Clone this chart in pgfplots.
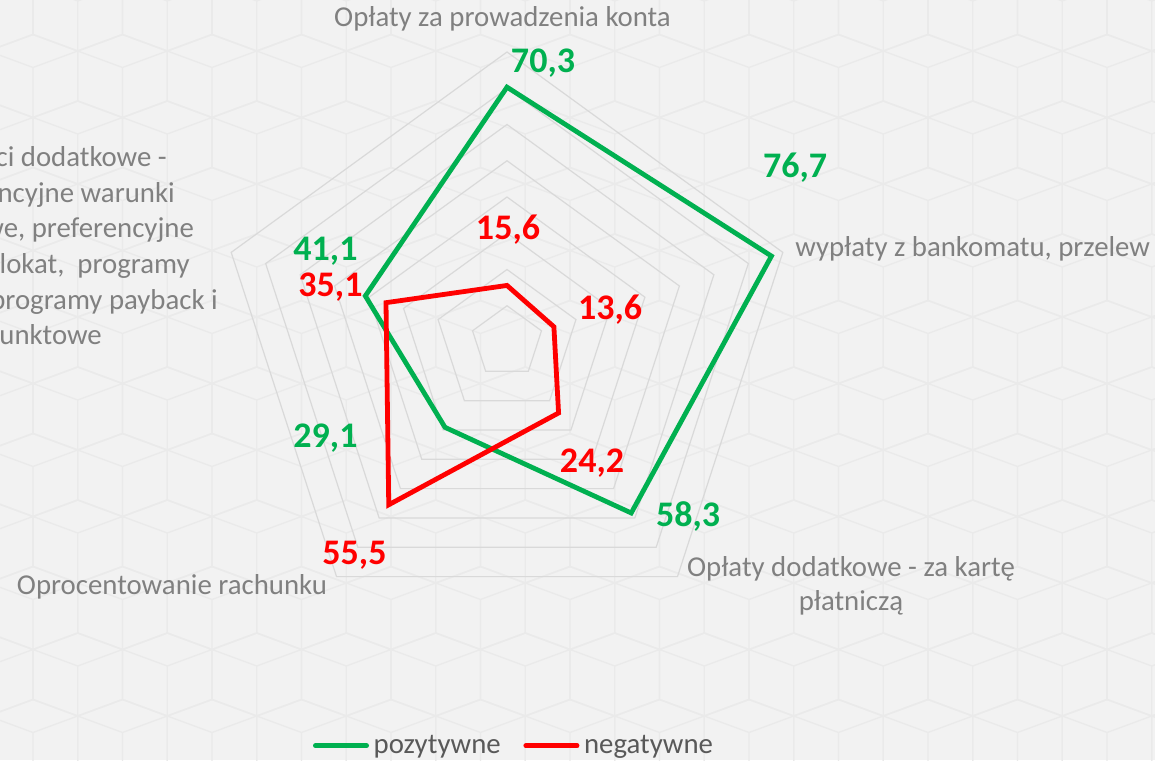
\documentclass[border=0pt]{standalone}
\usepackage{fontspec}
\setmainfont{Carlito}
\usepackage{pgfplots}
\pgfplotsset{compat=1.18}

\definecolor{bg}{HTML}{F2F2F2}
\definecolor{pat}{HTML}{EAEAEA}
\definecolor{gridc}{HTML}{D9D9D9}
\definecolor{posc}{HTML}{00B050}
\definecolor{negc}{HTML}{FF0000}
\definecolor{lab}{HTML}{808080}
\definecolor{leg}{HTML}{595959}

\newcommand\labfont{\fontsize{21.6}{26}\selectfont}
\newcommand\valfont{\fontsize{27}{32}\selectfont\bfseries}

\begin{document}
\begin{tikzpicture}[x=0.75pt,y=0.75pt]
\useasboundingbox (0,0) rectangle (1155,760);
\clip (0,0) rectangle (1155,760);
\fill[bg] (0,0) rectangle (1155,760);

% faint cube pattern of the background
\foreach \m in {0,...,13}{
  \foreach \j in {-1,...,13}{
    \pgfmathsetmacro\cx{33+44.75*mod(\m+1,2)+\j*89.5}
    \pgfmathsetmacro\cy{85.5+(\m-2)*66.5}
    \draw[pat, line width=1pt]
      (\cx,\cy+41.5) -- (\cx+44.75,\cy+25) -- (\cx+44.75,\cy-25) -- (\cx,\cy-41.5)
      -- (\cx-44.75,\cy-25) -- (\cx-44.75,\cy+25) -- cycle
      (\cx-44.75,\cy+25) -- (\cx,\cy+8.5) -- (\cx+44.75,\cy+25)
      (\cx,\cy+8.5) -- (\cx,\cy-41.5);
  }
}

\coordinate (centre) at (507,418);
\begin{axis}[
    at={(centre)}, anchor=origin,
    x=2.71875pt, y=2.71875pt,
    xmin=-139.862, xmax=178.759, ymin=-115.310, ymax=94.345,
    hide axis, clip=false,
    legend columns=2,
    legend image code/.code={\draw[#1, line cap=round] (0pt,0pt) -- (38.4pt,0pt);},
    legend style={at={(0.2710,0.0188)}, anchor=west, draw=none, fill=none,
        inner sep=0pt, outer sep=0pt, nodes={inner sep=0pt},
        font=\labfont, text=leg,
        /tikz/every odd column/.append style={column sep=3.5pt},
        /tikz/every even column/.append style={column sep=17pt}},
]
\pgfplotsinvokeforeach{10,20,30,40,50,60,70,80}{
  \addplot[gridc, line width=0.9pt, data cs=polar, forget plot]
    coordinates {(90,#1) (18,#1) (-54,#1) (-126,#1) (162,#1)} -- cycle;
}
\addplot[posc, line width=3.6pt, data cs=polar]
  coordinates {(90,70.3) (18,76.7) (-54,58.3) (-126,29.1) (162,41.1)} -- cycle;
\addlegendentry{pozytywne}
\addplot[negc, line width=3.6pt, data cs=polar]
  coordinates {(90,15.6) (18,13.6) (-54,24.2) (-126,55.5) (162,35.1)} -- cycle;
\addlegendentry{negatywne}
\end{axis}

% category labels
\begin{scope}[every node/.style={inner sep=0pt, text=lab, font=\labfont}]
\node[anchor=base] at (502.5,{760-27}) {Opłaty za prowadzenia konta};
\node[anchor=base west] at (795,{760-257}) {wypłaty z bankomatu, przelew};
\node[anchor=base] at (851,{760-577}) {Opłaty dodatkowe - za kartę};
\node[anchor=base] at (851,{760-611}) {płatniczą};
\node[anchor=base] at (172,{760-594}) {Oprocentowanie rachunku};
\node[anchor=base east] at (167,{760-167}) {Korzyści dodatkowe -};
\node[anchor=base east] at (175,{760-203}) {preferencyjne warunki};
\node[anchor=base east] at (194,{760-238}) {kredytowe, preferencyjne};
\node[anchor=base east] at (190,{760-274}) {oprocentowanie lokat,\ \ programy};
\node[anchor=base east] at (218,{760-310}) {rabatowe, programy payback i};
\node[anchor=base east] at (102,{760-345}) {programy punktowe};
\end{scope}

% data labels
\begin{scope}[every node/.style={inner sep=0pt, anchor=base, font=\valfont}]
\node[text=posc] at (543,{760-73}) {70,3};
\node[text=posc] at (795,{760-178}) {76,7};
\node[text=posc] at (688,{760-527}) {58,3};
\node[text=posc] at (325.5,{760-448}) {29,1};
\node[text=posc] at (325.5,{760-261}) {41,1};
\node[text=negc] at (508,{760-240}) {15,6};
\node[text=negc] at (610,{760-320}) {13,6};
\node[text=negc] at (592,{760-473}) {24,2};
\node[text=negc] at (354.5,{760-565}) {55,5};
\node[text=negc] at (330.5,{760-297}) {35,1};
\end{scope}
\end{tikzpicture}
\end{document}
